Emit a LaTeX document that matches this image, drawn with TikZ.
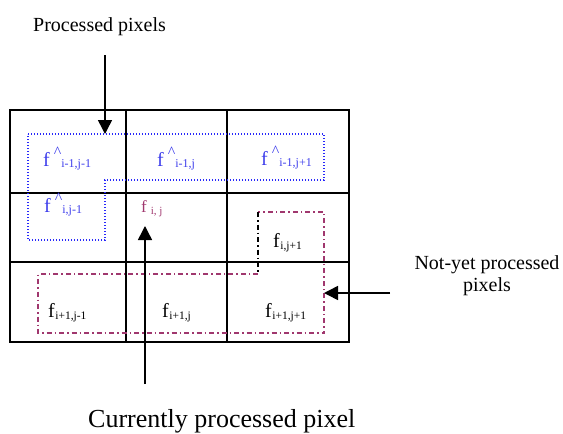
\documentclass[tikz,border=0pt]{standalone}
\usepackage{fontspec}
\setmainfont{Liberation Serif}
\usetikzlibrary{arrows.meta}

\definecolor{zoneblue}{RGB}{40,40,250}
\definecolor{textblue}{RGB}{60,60,235}
\definecolor{zonepurple}{RGB}{160,55,110}

% estimated pixel value: f, raised caret, lowered subscript
\newcommand\estval[1]{f\kern4pt\raisebox{8.5pt}{\fontsize{16}{16}\selectfont\textasciicircum}\raisebox{-1pt}{\fontsize{12}{12}\selectfont #1}}
% raw pixel value: f with lowered subscript
\newcommand\rawval[1]{f\kern0.5pt\raisebox{-2pt}{\fontsize{11.5}{12}\selectfont #1}}

\begin{document}
\begin{tikzpicture}[x=1pt,y=-1pt,
  gridline/.style={line width=2pt},
  pointer/.style={line width=1.5pt,-{Triangle[length=14pt,width=14pt]}},
  donezone/.style={draw=zoneblue,line width=1.4pt,dash pattern=on 1.4pt off 1.6pt},
  todozone/.style={draw=zonepurple,line width=1.4pt,dash pattern=on 5pt off 3pt on 1.5pt off 3pt},
  cell/.style={anchor=base west,inner sep=0pt,font=\fontsize{20}{20}\selectfont},
  caption/.style={inner sep=0pt,align=center}]
\useasboundingbox (0,0) rectangle (563,434);

% 3x3 pixel grid
\draw[gridline] (10,110) rectangle (349,342);
\draw[gridline] (126,110) -- (126,342);
\draw[gridline] (227,110) -- (227,342);
\draw[gridline] (10,193) -- (349,193);
\draw[gridline] (10,262) -- (349,262);

% region already processed (causal neighbourhood)
\draw[donezone] (28,134) -- (324,134) -- (324,180) -- (105,180) -- (105,240) -- (28,240) -- cycle;

% region not yet processed
\draw[todozone] (258,274) -- (38,274) -- (38,333) -- (324,333) -- (324,212) -- (258,212);
\draw[line width=1.4pt,dash pattern=on 5pt off 3pt on 1.5pt off 3pt] (258,212) -- (258,274);

% cell values
\node[cell,text=textblue] (a11) at (43,166) {\estval{i-1,j-1}};
\node[cell,text=textblue] (a12) at (157,166) {\estval{i-1,j}};
\node[cell,text=textblue] (a13) at (261,165) {\estval{i-1,j+1}};
\node[cell,text=textblue] (a21) at (44,212) {\estval{i,j-1}};
\node[cell,text=zonepurple,font=\fontsize{17}{17}\selectfont] (a22) at (141,212) {f\kern4pt\raisebox{-2pt}{\fontsize{11}{11}\selectfont i, j}};
\node[cell] (a23) at (273,247) {\rawval{i,j+1}};
\node[cell] (a31) at (48,317) {\rawval{i+1,j-1}};
\node[cell] (a32) at (162,317) {\rawval{i+1,j}};
\node[cell] (a33) at (265,317) {\rawval{i+1,j+1}};

% captions
\node[caption,anchor=base west,font=\fontsize{20}{20}\selectfont] (lbldone) at (33,31) {Processed pixels};
\node[caption,anchor=base,font=\fontsize{20}{22}\selectfont] (lbltodo) at (487,291) {Not-yet processed\\pixels};
\node[caption,anchor=base west,font=\fontsize{26}{26}\selectfont] (lblcur) at (88,427.5) {Currently processed pixel};

% pointers
\coordinate (donetail) at (105,55);
\coordinate (donetip) at (105,134);
\coordinate (curtail) at (145,384);
\coordinate (curtip) at (145,226);
\coordinate (todotail) at (390,293);
\coordinate (todotip) at (324,293);
\draw[pointer] (donetail) -- (donetip);
\draw[pointer] (curtail) -- (curtip);
\draw[pointer] (todotail) -- (todotip);
\end{tikzpicture}
\end{document}
